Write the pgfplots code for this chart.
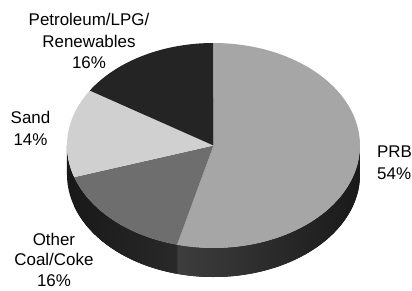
\documentclass[border=0pt]{standalone}
\usepackage{pgfplots}
\pgfplotsset{compat=1.18}
\usepackage{pgfplotstable}
\usepgfplotslibrary{fillbetween}
\usepackage{fontspec}
\setmainfont{Liberation Sans}
\definecolor{prb}{HTML}{A6A6A6}
\definecolor{coal}{HTML}{6E6E6E}
\definecolor{sand}{HTML}{D0D0D0}
\definecolor{petro}{HTML}{242424}
\tikzset{lbl/.style={font=\fontsize{17}{21.5}\selectfont, align=center, text=black, inner sep=0pt}}
\pgfplotstableread{
share
54
16
14
16
}\piedata
\begin{document}%
\begin{tikzpicture}
\pgfplotstablegetelem{0}{share}\of\piedata \let\vA\pgfplotsretval
\pgfplotstablegetelem{1}{share}\of\piedata \let\vB\pgfplotsretval
\pgfplotstablegetelem{2}{share}\of\piedata \let\vC\pgfplotsretval
\pgfplotstablegetelem{3}{share}\of\piedata \let\vD\pgfplotsretval
\pgfmathsetmacro\aA{90-3.6*\vA}
\pgfmathsetmacro\aB{\aA-3.6*\vB}
\pgfmathsetmacro\aC{\aB-3.6*\vC}
\pgfmathsetmacro\aD{\aC-3.6*\vD}
\def\dep{0.283}
\begin{axis}[
  at={(0,0)}, anchor=south west,
  x=146.5bp, y=102.5bp,
  xmin=-1.4573, xmax=1.3549, ymin=-1.4195, ymax=1.4195,
  xtick=\empty, ytick=\empty,
  hide axis, clip=false,
]
\path (rel axis cs:0,0) (rel axis cs:1,1);
% side walls
\addplot[draw=none, name path=pt, domain=\aA:0, samples=60] ({cos(x)},{sin(x)});
\addplot[draw=none, name path=pb, domain=\aA:0, samples=60] ({cos(x)},{sin(x)-\dep});
\addplot[left color=black!76, right color=black!90] fill between[of=pt and pb];
\addplot[draw=none, name path=ct, domain=\aB:\aA, samples=40] ({cos(x)},{sin(x)});
\addplot[draw=none, name path=cb, domain=\aB:\aA, samples=40] ({cos(x)},{sin(x)-\dep});
\addplot[left color=black!90, right color=black!84] fill between[of=ct and cb];
\addplot[draw=none, name path=st, domain=-180:\aB, samples=20] ({cos(x)},{sin(x)});
\addplot[draw=none, name path=sb, domain=-180:\aB, samples=20] ({cos(x)},{sin(x)-\dep});
\addplot[fill=black!90] fill between[of=st and sb];
% top face
\addplot[fill=prb, draw=none, domain=\aA:90, samples=120] ({cos(x)},{sin(x)}) -- (axis cs:0,0) -- cycle;
\addplot[fill=coal, draw=none, domain=\aB:\aA, samples=40] ({cos(x)},{sin(x)}) -- (axis cs:0,0) -- cycle;
\addplot[fill=sand, draw=none, domain=\aC:\aB, samples=40] ({cos(x)},{sin(x)}) -- (axis cs:0,0) -- cycle;
\addplot[fill=petro, draw=none, domain=\aD:\aC, samples=40] ({cos(x)},{sin(x)}) -- (axis cs:0,0) -- cycle;
% labels
\node[lbl, anchor=north] at (axis cs:-0.850,1.288) {Petroleum/LPG/\\Renewables\\16\%};
\node[lbl, anchor=north] at (axis cs:-1.249,0.332) {Sand\\14\%};
\node[lbl, anchor=north west, align=left] at (axis cs:1.116,-0.005) {PRB\\54\%};
\node[lbl, anchor=north, font=\fontsize{17}{20.5}\selectfont] at (axis cs:-1.089,-0.854) {Other\\Coal/Coke\\16\%};
\end{axis}
\pgfresetboundingbox
\path[use as bounding box] (0,0) rectangle (412bp,291bp);
\end{tikzpicture}%
\end{document}
